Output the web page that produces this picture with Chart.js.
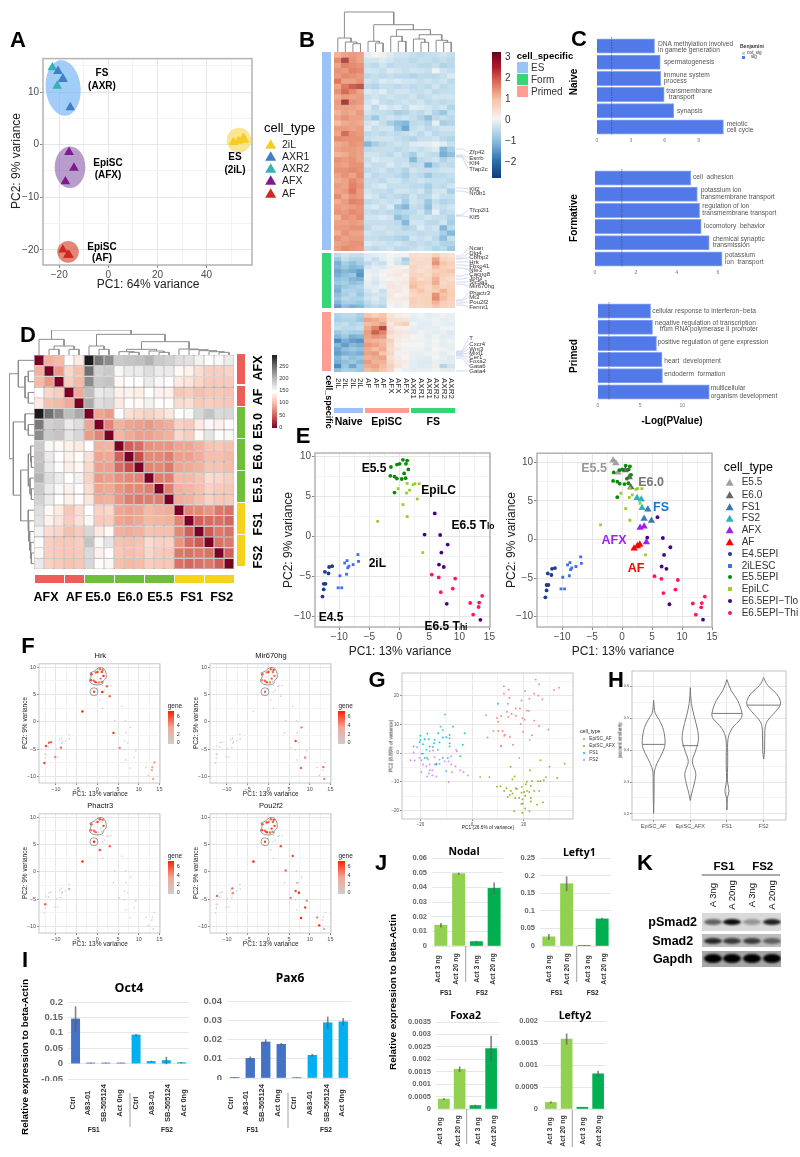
<!DOCTYPE html>
<html>
<head>
<meta charset="utf-8">
<script src="https://cdn.jsdelivr.net/npm/chart.js@4"></script>
<style>
html,body{margin:0;padding:0;background:#fff;}
#page{position:relative;width:800px;height:1157px;overflow:hidden;font-family:"Liberation Sans",Arial,sans-serif;filter:blur(0.3px);}
#page canvas{position:absolute;}
.tx{position:absolute;white-space:pre;line-height:1;}
.gl{position:absolute;}
svg{position:absolute;left:0;top:0;}
</style>
</head>
<body>
<div id="page"></div>
<script>
// ---------- data ----------
// panel A
const aIL = [[51,0.5],[53,0.7],[55,1.3],[55.5,0.9]];
const aAXR1 = [[-20.5,14],[-15.5,7.1],[-18.5,12.5]];
const aAXR2 = [[-22.8,14.7],[-20.8,11.2],[-18.5,12.6]];
const aAFX = [[-16,-1.4],[-14,-4.4],[-17.5,-7]];
const aAF = [[-18.5,-20],[-16,-21],[-16.5,-21]];
const aEllipses = [[-18.4,10.8,7.1,5.3,'rgba(126,186,245,.72)',-0.1],[-15.6,-4.3,6.25,3.96,'rgba(135,90,170,.6)',0],[-16.4,-20.4,4.4,2.08,'rgba(214,84,60,.7)',0],[53.2,0.85,5,2.36,'rgba(247,220,110,.75)',0]];

// panel B, values x10, columns 2iL x4, AF x3, AFX x3, AXR1 x3, AXR2 x3
const bCols = ['2iL','2iL','2iL','2iL','AF','AF','AF','AFX','AFX','AFX','AXR1','AXR1','AXR1','AXR2','AXR2','AXR2'];
const bES = [
[13,15,16,15,-2,0,1,-4,-5,-5,-6,-7,-6,-6,-5,-6],
[18,24,17,15,-5,-5,-4,-5,-6,-6,-7,-6,-6,-7,-6,-7],
[15,19,18,17,-6,-7,-5,-7,-6,-6,-6,-7,-7,-6,-8,-7],
[17,16,19,18,-5,-5,-6,-4,-5,-6,-5,-5,-6,-1,-5,-6],
[16,18,17,16,-7,-6,-7,-6,-7,-7,-8,-7,-7,-7,-6,-4],
[20,15,15,17,-5,-6,-4,-5,-4,-5,-5,-6,-5,-6,-5,-7],
[15,20,22,23,-7,-8,-6,-6,-7,-6,-7,-6,-7,-5,-7,-6],
[17,21,18,15,-4,-5,-3,-6,-5,-5,-6,-6,-5,-7,-6,-6],
[14,16,15,16,-6,-5,-6,-5,-6,-6,-5,-7,-6,-5,-5,-5],
[16,25,17,16,-5,-3,-6,-7,-6,-5,-6,-5,-7,-6,-7,-6],
[15,15,15,14,-4,-7,-3,-5,-4,-6,-3,-4,-5,-6,-5,-8],
[13,15,14,16,-5,-6,-6,-7,-9,-8,-6,-7,-5,-8,-10,-6],
[15,17,15,15,-7,-10,-6,-5,-6,-5,-6,-8,-11,-7,-6,-7],
[12,14,15,14,-5,-4,-6,-9,-11,-12,-7,-6,-8,-2,-9,-8],
[16,16,15,16,-4,-6,-5,-5,-10,-14,-6,-5,-7,-6,-5,-5],
[15,21,17,16,-7,-6,-7,-6,-7,-6,-5,-7,-5,-7,-6,-6],
[18,17,17,17,-6,-5,-5,-5,-6,-7,-8,-6,-6,-5,-7,-8],
[14,15,17,16,-12,-9,-7,-6,-5,-6,-4,-3,-3,-1,-3,-6],
[15,16,16,15,-7,-6,-6,-6,-7,-6,-5,-6,-5,-4,-12,-9],
[13,14,16,15,-5,-5,-6,-7,-5,-7,-9,-5,-6,-7,-13,-11],
[17,16,17,15,-6,-4,-5,-5,-6,-6,-12,-7,-6,-5,-8,-6],
[16,15,17,17,-5,-6,-6,-4,-6,-5,-7,-6,-13,-8,-6,-7],
[17,17,18,17,-7,-6,-5,-7,-6,-8,-5,-6,-6,-6,-5,-5],
[15,17,15,18,-5,-7,-6,-6,-7,-9,-6,-7,-10,-7,-7,-6],
[14,15,18,16,-6,-6,-7,-5,-5,-7,-6,-5,-6,-6,-6,-7],
[16,15,19,17,-6,-5,-4,-6,-6,-6,-7,-7,-9,-6,-7,-5],
[15,16,20,16,-5,-6,-6,-7,-5,-5,-6,-5,-8,-5,-5,-9],
[18,14,17,16,-4,-5,-7,-6,-7,-8,-5,-7,-7,-4,-6,-6],
[14,16,19,18,-7,-6,-5,-6,-5,-9,-5,-6,-10,-6,-8,-7],
[16,15,16,17,-5,-4,-6,-4,-10,-12,-6,-7,-11,-5,-6,-5],
[17,16,18,17,-6,-7,-6,-7,-8,-7,-7,-5,-9,-2,-7,-6],
[13,17,16,18,-5,-5,-4,-5,-11,-9,-6,-6,-5,-6,-6,-8],
[15,15,16,15,-6,-6,-6,-6,-7,-12,-5,-5,-7,-7,-5,-9],
[16,16,17,17,-7,-5,-5,-6,-6,-8,-7,-4,-6,-5,-12,-7],
[14,17,15,15,-5,-6,-6,-5,-6,-6,-6,-7,-6,-6,-9,-12],
[17,15,16,16,-6,-6,-7,-7,-8,-9,-5,-6,-5,-7,-11,-6],
[15,16,17,17,-4,-5,-5,-6,-5,-6,-7,-6,-7,-6,-8,-8],
[16,18,17,16,-6,-7,-6,-5,-7,-7,-6,-5,-6,-8,-7,-10]
];
const bForm = [
[-7,-5,-6,-6,-4,-3,-2,0,1,-1,6,5,5,9,6,5],
[-10,-6,-8,-8,-4,-6,-3,-1,-4,-9,7,6,7,15,8,7],
[-13,-9,-11,-9,-7,-5,-6,-1,-5,-7,6,7,6,17,11,9],
[-12,-10,-12,-11,-5,-3,-4,2,1,0,8,6,5,12,9,8],
[-14,-12,-13,-15,-2,-3,-1,1,2,3,7,5,7,9,10,11],
[-13,-11,-10,-16,-1,-2,0,2,3,1,8,8,6,11,9,8],
[-11,-10,-12,-13,-1,-4,-1,0,1,2,10,6,8,13,8,6],
[-10,-9,-11,-10,-3,-5,-2,3,2,3,11,10,9,14,7,8],
[-12,-10,-9,-8,-3,-3,-1,4,3,2,12,9,7,11,8,9],
[-13,-8,-8,-9,-5,-3,-6,2,3,1,9,11,8,10,13,9],
[-11,-9,-7,-10,-6,-5,-5,3,0,1,7,9,8,17,11,10],
[-10,-7,-8,-8,-5,-4,-6,2,2,3,9,8,9,18,12,9],
[-12,-9,-9,-10,-7,-5,-6,1,2,1,10,8,9,13,10,8],
[-15,-11,-13,-12,-8,-7,-8,0,-2,-1,8,7,8,11,9,8]
];
const bPrimed = [
[-8,-7,-7,-9,11,9,11,4,2,1,-2,-1,-3,-2,-1,-2],
[-9,-8,-8,-10,15,14,12,6,5,4,-3,-2,-2,-1,-3,-2],
[-7,-6,-8,-7,12,13,15,3,7,9,-1,-3,-3,-1,-2,-3],
[-6,-7,-7,-6,14,19,24,5,2,1,-2,-3,-2,-2,-1,-1],
[-10,-8,-9,-9,16,22,19,7,4,3,-3,-1,-2,-3,-2,-4],
[-12,-10,-13,-12,15,17,16,4,3,2,0,-1,-3,-1,-3,-3],
[-17,-13,-15,-16,14,13,12,9,2,1,-1,-1,-2,0,-2,-1],
[-12,-15,-12,-13,16,15,13,7,1,0,0,0,-2,-1,-3,-2],
[-14,-11,-10,-11,14,12,14,6,3,-1,-1,-1,-3,0,-1,-2],
[-15,-13,-12,-13,15,16,11,8,-1,1,-2,-2,-1,-1,-3,-1],
[-12,-9,-11,-10,13,14,15,5,2,0,-2,-3,-3,0,-2,-4],
[-13,-11,-10,-12,16,13,13,7,3,2,-3,-4,-4,-2,-3,-3],
[-17,-10,-14,-10,14,15,12,9,4,1,-3,-4,-3,2,-8,-5],
[-11,-9,-9,-10,12,13,11,8,0,-2,-3,-2,-2,-1,-2,-3]
];
const bTree = [[2.5,0,3.5,0,8.3],[1.5,0,3,8.3,10],[0.5,0,2.25,10,14],[5.5,0,6.5,0,9],[4.5,0,6,9,10.7],[8.5,0,9.5,0,10.7],[7.5,0,9,10.7,15.7],[11.5,0,12.5,0,9.7],[10.5,0,12,9.7,13],[14.5,0,15.5,0,9.7],[13.5,0,15,9.7,11.7],[11.25,13,14.25,11.7,17.3],[8.25,15.7,12.75,17.3,22.3],[5.25,10.7,10.5,22.3,27.3],[1.375,14,7.9,27.3,40]];
const bGenes = [['Zfp42',152,149],['Esrrb',157.7,155],['Klf4',163.3,156],['Tfap2c',169.3,157],['Klf2',188.7,188],['Nr0b1',192.7,191],['Tfcp2l1',209.7,215],['Klf5',216.7,216],['Ncan',248,256],['Dlg4',253,258],['Cbfbp2',257.3,259],['Hrk',261.7,262],['Fbxo41',266,265],['Nfe3',269.7,268],['Cacng8',273.7,276],['Jph3',277.7,279],['Slc5a1',281.7,282],['Mir670hg',286.3,284],['Phactr3',293,300],['Mt3',297.3,301],['Pou2f2',301.7,303],['Fermt1',306.7,305],['T',338.3,351],['Cxcr4',344.3,352],['Wnt3',349,353],['Mixl1',353,354],['Cer1',357.3,355],['Foxa2',361.3,356],['Gata6',365.7,358],['Gata4',371,371]];

// panel C
const cNaiveTerms = ['DNA methylation','spermatogenesis','immune system process','transmembrane transport','synapsis','meiotic cell cycle'];
const cNaiveVals = [5.1,5.6,5.65,5.95,6.8,11.2];
const cFormTerms = ['cell adhesion','potassium ion tm transport','regulation of ion tm transport','locomotory behavior','chemical synaptic transmission','potassium ion transport'];
const cFormVals = [4.68,5.0,5.11,5.19,5.58,6.21];
const cPrimTerms = ['response to interferon-beta','negative regulation','positive regulation','heart development','endoderm formation','multicellular organism development'];
const cPrimVals = [6.24,6.47,6.94,7.6,7.65,13.2];

// panel D, upper triangle of the distance matrix
const dUpper = [
[0,95,100,152,135,285,235,225,190,195,198,205,190,185,175,172,160,152,155,165],
[0,80,120,105,240,185,190,155,165,165,175,165,165,145,140,125,115,115,118],
[0,115,100,225,190,195,145,150,148,165,155,150,135,130,120,112,112,112],
[0,90,200,165,170,140,140,138,150,140,140,110,115,105,110,110,108],
[0,210,175,180,135,148,145,160,148,148,125,128,112,115,112,110],
[0,88,82,150,128,122,118,125,132,150,155,180,195,178,180],
[0,70,95,88,85,80,88,92,118,112,135,155,140,148],
[0,98,90,85,85,90,95,122,115,145,170,152,155],
[0,55,60,75,78,78,88,88,95,108,110,105],
[0,45,72,72,68,85,85,92,105,105,100],
[0,70,72,65,88,90,95,108,108,102],
[0,68,68,100,100,108,125,120,115],
[0,68,95,98,105,118,112,110],
[0,92,95,105,118,110,110],
[0,70,72,78,65,62],
[0,55,60,62,58],
[0,52,65,62],
[0,62,65],
[0,55],
[0]
];
const dTree = [[1.5,0,2.5,0,17],[3.5,0,4.5,0,17],[2,17,4,17,27],[0.5,0,3,27,47],[6.5,0,7.5,0,17],[5.5,0,7,17,27],[9.5,0,10.5,0,8],[8.5,0,10,8,10],[12.5,0,13.5,0,8],[11.5,0,13,8,12],[9.25,10,12.25,12,17],[18.5,0,19.5,0,8],[17.5,0,19,8,10],[16.5,0,18.25,10,13],[15.5,0,17.4,13,16],[14.5,0,16.45,16,18],[10.75,17,15.5,18,40],[6.25,27,13.1,40,62],[1.75,47,9.7,62,75]];

// panel E, F: shared samples
const e45 = [[-12.8,-7.5],[-12.6,-6.6],[-12.6,-5.9],[-12.3,-5.9],[-12.4,-4.4],[-11.8,-4.6],[-11.7,-3.8],[-11.2,-3.7]];
const eIL = [[-10.2,-6.4],[-9.6,-6.4],[-9.9,-4.9],[-8.8,-4.7],[-8.6,-3.9],[-8.4,-3.7],[-9.1,-3.3],[-8.7,-3],[-7.7,-3.5],[-6.8,-3.1],[-6.9,-2.25]];
const e55 = [[-1.4,8.7],[-0.4,9],[0.05,9.1],[0.6,9.6],[1.3,9.5],[1.1,9.1],[1.5,8.4],[0.8,7.9],[-1.5,7.6],[-0.8,7.5],[-0.4,7.25],[0.4,7.2],[1.05,7.3],[-0.8,5.5]];
const eLC = [[-3.6,1.9],[1.3,6.65],[2.3,6.5],[2.6,6.6],[3.3,6.6],[1.7,5.8],[1.2,5.45],[-0.2,6],[3,4.7],[0.6,4],[1.3,2.5],[3.9,-2]];
const eTlo = [[5.9,2.9],[4.2,0.25],[6.8,0.2],[8.05,-1],[7,-2],[6.6,-3.5],[7.4,-3.8],[7.9,-8.4],[13.5,-10.4]];
const eThi = [[5.4,-4.75],[6.55,-5.1],[9.3,-5.25],[8.9,-6.5],[6.9,-6.95],[11.8,-8.3],[13.3,-8.25],[13.8,-7.4],[13.2,-8.8],[12.3,-9.75]];
const tE55 = [[-1.5,10.25],[-1.05,9.9],[-0.67,8.7]];
const tE60 = [[0.55,9],[1.2,8.1],[1.45,6.8]];
const tFS1 = [[4.3,3.9],[3.67,2.7],[4.9,2.45]];
const tFS2 = [[2.5,5.4],[3.2,5.2],[3.33,4.1]];
const tAFX = [[3,1.55],[3.67,1.7],[4.05,-0.35]];
const tAF = [[2,-1.15],[2.55,-0.85],[2.95,-0.65]];
const fHull = [[-1.8,8.9],[-0.7,9.3],[0.15,9.8],[1.05,9.9],[1.7,9.6],[2.1,8.9],[2.1,8],[1.45,7.5],[1.3,7],[0.1,6.75],[-1.1,6.9],[-1.9,7.5],[-1.5,8.25],[-1.8,8.9]];
const exprHrk = [6,0,0,0,6,0,5,5, 4,0,0,5,0,0,0,0,0,0,0, 6,5,6,5,5,6,7,4,6,5,6,4,5,6, 7,0,5,0,0,0,7,0,5,0,0,7, 0,0,0,0,0,0,0,0,3, 4,0,0,0,0,0,3,3,3,0];
const exprMir = [0,0,0,0,0,0,0,0, 0,0,0,0,0,0,0,0,0,0,0, 5,4,6,5,6,5,5,5,4,5,6,4,0,5, 0,0,0,0,0,0,0,0,0,0,0,0, 0,0,0,4,0,6,0,5,4, 0,0,0,4,0,0,5,0,0,0];
const exprPha = [0,0,5,0,0,0,0,0, 0,0,0,0,0,0,0,0,0,3,0, 5,0,6,6,5,0,6,0,5,5,5,0,0,7, 7,0,0,0,0,0,0,0,5,6,0,0, 0,0,0,0,0,0,0,0,0, 0,0,0,0,0,0,0,0,0,0];
const exprPou = [0,0,0,0,5,0,0,0, 0,0,0,0,4,0,0,5,0,0,0, 5,6,5,5,6,5,6,6,6,5,7,5,4,6, 7,0,0,0,0,0,0,0,6,0,0,0, 6,5,0,0,3,6,7,7,3, 4,0,4,6,0,4,0,0,0,7];

// panel G
const gAF = [[24.6,25.6],[25.9,24],[12.3,23.3],[33.6,22.8],[31.7,22],[14.2,22.1],[12.3,20.7],[20.5,21.6],[24,20.7],[25.6,20],[27.2,18.7],[14.4,19.2],[19.1,18.3],[22.1,18.9],[13.8,17.2],[16.9,15.5],[18.5,15.5],[21.2,14.8],[21.9,14.7],[13.5,14.4],[15.3,13.6],[5.4,13.2],[11.2,12.9],[16.9,13],[14,12.6],[9.6,12.2],[19.5,12.1],[20.3,11.6],[24,11.3],[10.1,10.9],[18.8,10.1],[25.9,9.4],[29.5,8.2],[8.2,7.7],[10.1,7.7],[11.8,7.7],[19.7,7.4],[12.8,6.4],[12.4,6],[14.6,5.6],[23.1,6.2],[22.3,4.6],[15.8,2.9],[11.2,2.5],[18.2,-1.7]];
const gAFX = [[26.4,-2.5],[35.8,-3.7],[29.9,-4.8],[14.9,-4.8],[22.4,-6],[3.1,-8.4],[6.7,-8.4],[16.4,-8.2],[15.6,-9.2],[28.5,-8.4],[32.9,-8.7],[27.7,-9.5],[26.4,-9.8],[25.5,-9.8],[23.1,-9.8],[21.2,-10],[20.8,-10.9],[22.7,-11.5],[19.2,-11.8],[16.9,-12.3],[9.6,-11.7],[11,-11.6],[13.3,-12.3],[12.4,-13.2],[15,-13.2],[17.3,-12.6],[21.2,-13.2],[22.1,-13.6],[24,-13.2],[25.9,-13.2],[20.1,-13.6],[19.1,-13.8],[15.6,-14.1],[14.6,-14.6],[13.8,-15.3],[16.7,-15.7],[18.2,-15.7],[19.5,-16.1],[20.5,-14.9],[22.7,-15.7],[19.5,-17.6],[19.1,-17.8],[27.4,-17.2],[25.1,-18],[22.7,-16.9],[20.5,-19.3],[16.3,-20.3],[19.4,-20.8],[22.2,-20.3]];
const gFS1 = [[10,17.2],[-10.5,13.4],[-12.2,9.2],[-11.3,8],[-7.4,9.2],[-2.9,6.9],[-13.1,6.9],[-20,6],[-17.3,6.7],[-20,4.6],[-18.3,4.8],[-16.7,4.8],[-14.5,4.6],[-11.3,5.4],[-10,5.5],[-8.7,6.3],[-8.7,5.2],[-20.3,3.8],[-22.6,2.3],[-19,3.1],[-16.4,2.3],[-14.7,3.4],[-12.6,3.7],[-8.7,3.4],[-8.7,2.3],[-3.6,2.9],[-17.7,1.1],[-15.1,2.1],[-13.2,1.1],[-4.6,-1.1],[-19,-0.2],[-17.4,-1.7],[-11.3,-1.7],[-9.4,-1.7],[-13.8,-3.7],[-10,-6.3],[-13.8,-4],[-18.3,-1.7]];
const gFS2 = [[6,5.4],[11.2,2.3],[-21.3,2],[-6.2,1.1],[-5.9,0.6],[-22.6,0.2],[-19.6,-0.2],[-16.4,0.6],[-15.1,0.9],[-8.1,-1.1],[-20.3,-1.7],[-23.8,-2.5],[-22.2,-2.6],[-19.6,-2.5],[-17,-2.3],[-14.5,-1.4],[-12.6,-2.3],[-10.6,-2.9],[-9.1,-2.9],[-16.4,-4],[-14.5,-4],[-12.6,-3.8],[-6.4,-4.6],[-8.1,-4],[-16.4,-6],[-15.4,-6],[-19.6,-6.7],[-16.7,-7.1],[-7.7,-6.7],[-4.6,-6],[-3.3,-6.6],[-1.7,-7.8],[-17.4,-8.2],[-13.8,-8.2],[-15.4,-7.8],[-9.1,-10.2],[-17.7,-4.6],[-19,-4]];

// panel H: [similarity, half width]
const violinNames = ['EpiSC_AF','EpiSC_AFX','FS1','FS2'];
const violinAF = [[0.556,0],[0.535,0.014],[0.515,0.045],[0.494,0.155],[0.4625,0.27],[0.418,0.31],[0.39,0.23],[0.358,0.09],[0.332,0.02],[0.296,0.014],[0.254,0.01],[0.202,0]];
const violinAFX = [[0.596,0],[0.546,0.03],[0.504,0.11],[0.4625,0.2],[0.431,0.22],[0.4,0.15],[0.364,0.055],[0.327,0.15],[0.296,0.11],[0.265,0.04],[0.242,0]];
const violinFS1 = [[0.621,0],[0.5875,0.11],[0.556,0.29],[0.515,0.41],[0.499,0.38],[0.468,0.14],[0.436,0.03],[0.379,0.02],[0.353,0.02],[0.306,0.01],[0.291,0.03],[0.27,0.055],[0.249,0.01],[0.2125,0]];
const violinFS2 = [[0.627,0],[0.603,0.11],[0.577,0.35],[0.556,0.45],[0.541,0.45],[0.52,0.32],[0.489,0.09],[0.4625,0.035],[0.4,0.027],[0.372,0]];
const violinMedian = [[0.418,0.3],[0.414,0.22],[0.515,0.41],[0.541,0.45]];

// panels I, J
const iLabels = ['Ctrl','A83-01','SB-505124','Act 0ng','Ctrl','A83-01','SB-505124','Act 0ng'];
const oct4Vals = [0.145,0.002,0.002,0.002,0.093,0.007,0.01,0.003];
const oct4Errs = [0.04,0,0,0,0.002,0.001,0.011,0.001];
const pax6Vals = [0.0002,0.0102,0.0187,0.0175,0.0002,0.0118,0.0287,0.0292];
const pax6Errs = [0,0.0008,0.0012,0.0005,0,0.0006,0.003,0.0018];
const jLabels = ['Act 3 ng','Act 20 ng','Act 3 ng','Act 20 ng'];
const nodalVals = [0.0142,0.0493,0.003,0.0393];
const nodalErrs = [0.0013,0.0005,0.0003,0.0037];
const lefty1Vals = [0.026,0.177,0.001,0.077];
const lefty1Errs = [0.007,0.02,0,0.002];
const foxa2Vals = [0.0004,0.0016,0.00014,0.00243];
const foxa2Errs = [0.00002,0.0001,0.00002,0.0005];
const lefty2Vals = [0.00015,0.00159,0.00004,0.0008];
const lefty2Errs = [0.00002,0.00012,0,0.00006];

// ---------- helpers ----------
const page = document.getElementById('page');
Chart.defaults.animation = false;
Chart.defaults.responsive = false;
Chart.defaults.devicePixelRatio = 1;
Chart.defaults.font.family = '"Liberation Sans"';
Chart.defaults.plugins.legend.display = false;
Chart.defaults.plugins.tooltip.enabled = false;

// frame, reference line and ellipses
Chart.register({
    id: 'deco',
    beforeDatasetsDraw(chart, args, o) {
        (o.ellipses || []).forEach(e => {
            const sx = chart.scales.x, sy = chart.scales.y;
            const cx = sx.getPixelForValue(e[0]), cy = sy.getPixelForValue(e[1]);
            const rx = Math.abs(sx.getPixelForValue(e[0] + e[2]) - cx), ry = Math.abs(sy.getPixelForValue(e[1] + e[3]) - cy);
            chart.ctx.beginPath();
            chart.ctx.ellipse(cx, cy, rx, ry, e[5], 0, Math.PI * 2);
            chart.ctx.fillStyle = e[4];
            chart.ctx.fill();
        });
    },
    afterDraw(chart, args, o) {
        const a = chart.chartArea, c = chart.ctx;
        if (o.refLine != null) {
            const x = chart.scales.x.getPixelForValue(o.refLine);
            c.save();
            c.strokeStyle = '#444';
            c.lineWidth = 0.6;
            c.setLineDash([1.5, 1]);
            c.beginPath();
            c.moveTo(x, a.top - 1);
            c.lineTo(x, a.bottom);
            c.stroke();
            c.restore();
        }
        if (o.frame) {
            c.save();
            c.strokeStyle = o.frame;
            c.lineWidth = o.frameWidth || 1;
            c.strokeRect(a.left, a.top, a.right - a.left, a.bottom - a.top);
            c.restore();
        }
    }
});

function plot(box, type, datasets, scales, extra) {
    const { x, y, w, h, l = 30, b = 20, t = 4, r = 12 } = box;
    const cv = document.createElement('canvas');
    cv.width = w + l + r;
    cv.height = h + t + b;
    cv.style.left = (x - l) + 'px';
    cv.style.top = (y - t) + 'px';
    cv.style.width = cv.width + 'px';
    cv.style.height = cv.height + 'px';
    page.appendChild(cv);
    const clear = s => { s.paddingLeft = s.paddingRight = s.paddingTop = s.paddingBottom = 0; };
    scales.x.afterFit = s => { s.height = b; clear(s); };
    scales.y.afterFit = s => { s.width = l; clear(s); };
    const labels = extra && extra.labels;
    return new Chart(cv, {
        type,
        data: labels ? { labels, datasets } : { datasets },
        options: {
            indexAxis: (extra && extra.indexAxis) || 'x',
            layout: { padding: { top: t, right: r, left: 0, bottom: 0 } },
            scales,
            plugins: { deco: (extra && extra.deco) || {} }
        }
    });
}

const hidden = o => Object.assign({ ticks: { display: false }, grid: { display: false }, border: { display: false } }, o);

function gg(min, max, step, labelStep, size, fmt) {
    const major = v => Math.abs(v / labelStep - Math.round(v / labelStep)) < 1e-6;
    return {
        type: 'linear', min, max,
        ticks: {
            stepSize: step, includeBounds: false, autoSkip: false, maxRotation: 0,
            font: { size }, color: '#4d4d4d', padding: 1,
            callback: v => major(v) ? (fmt ? fmt(v) : String(v).replace('-', '\u2212')) : ''
        },
        grid: {
            color: c => major(c.tick.value) ? '#e6e6e6' : '#f3f3f3',
            tickColor: c => major(c.tick.value) ? '#8a8a8a' : 'transparent',
            tickLength: size > 7 ? 3 : 2
        },
        border: { display: false }
    };
}

function T(s, x, y, o = {}) {
    const d = document.createElement('div');
    d.className = 'tx';
    d.innerHTML = s;
    d.style.left = x + 'px';
    d.style.top = y + 'px';
    d.style.fontSize = (o.size || 10) + 'px';
    d.style.color = o.color || '#000';
    if (o.bold) d.style.fontWeight = 'bold';
    if (o.family) d.style.fontFamily = o.family;
    let tr = o.align === 'l' ? 'translate(0,-50%)' : o.align === 'r' ? 'translate(-100%,-50%)' : 'translate(-50%,-50%)';
    if (o.rot) tr = 'translate(-50%,-50%) rotate(' + o.rot + 'deg)';
    if (o.vert) { d.style.writingMode = 'vertical-rl'; tr = 'translate(-50%,0)'; }
    d.style.transform = tr;
    page.appendChild(d);
}

function glyph(shape, color, x, y, size) {
    const d = document.createElement('div');
    d.className = 'gl';
    d.style.cssText += `left:${x - size / 2}px;top:${y - size / 2}px;width:${size}px;height:${size}px;background:${color};`;
    if (shape === 'tri') d.style.clipPath = 'polygon(50% 6%,100% 94%,0 94%)';
    if (shape === 'dot') d.style.borderRadius = '50%';
    page.appendChild(d);
}

function box(x, y, w, h, bg) {
    const d = document.createElement('div');
    d.className = 'gl';
    d.style.cssText += `left:${x}px;top:${y}px;width:${w}px;height:${h}px;background:${bg};`;
    page.appendChild(d);
    return d;
}

function ramp(stops, v) {
    if (v <= stops[0][0]) return stops[0][1];
    for (let i = 1; i < stops.length; i++) {
        if (v <= stops[i][0]) {
            const f = (v - stops[i - 1][0]) / (stops[i][0] - stops[i - 1][0]);
            const p = stops[i - 1][1], q = stops[i][1];
            const m = k => Math.round(parseInt(p.substr(k, 2), 16) * (1 - f) + parseInt(q.substr(k, 2), 16) * f);
            return `rgb(${m(1)},${m(3)},${m(5)})`;
        }
    }
    return stops[stops.length - 1][1];
}

const rdbu = [[-28, '#0b3c78'], [-20, '#2d72b2'], [-10, '#9cc9e2'], [-4, '#dbeaf3'], [0, '#f5f4f3'], [10, '#f8cdb4'], [20, '#e07a5e'], [30, '#67001f']];
const distRamp = [[0, '#7a0025'], [45, '#c8504a'], [55, '#d2605a'], [75, '#e8907c'], [100, '#f6b9a4'], [130, '#fde3d8'], [150, '#ffffff'], [200, '#bdbdbd'], [285, '#1a1a1a']];
const geneRamp = [[0, '#cdcdcd'], [3, '#f0a898'], [7, '#ff2000']];

const pts = a => a.map(p => ({ x: p[0], y: p[1] }));
const scat = (a, color, style, radius) => ({ data: pts(a), backgroundColor: color, borderColor: color, pointStyle: style, pointRadius: radius, pointBorderWidth: 0 });

// heat map out of floating bars, one dataset per row
function heat(b, rows, colLabels, colorFor, border) {
    const sets = rows.map((row, r) => ({
        data: row.map(() => [r, r + 1]),
        backgroundColor: row.map(colorFor),
        borderColor: border || 'transparent',
        borderWidth: border ? 0.6 : 0,
        borderSkipped: false,
        inflateAmount: border ? 0 : 0.4,
        grouped: false,
        barPercentage: 1,
        categoryPercentage: 1
    }));
    plot(Object.assign({ l: 0, b: 0, t: 0, r: 0 }, b), 'bar', sets,
        { x: hidden({ type: 'category' }), y: hidden({ type: 'linear', min: 0, max: rows.length, reverse: true }) },
        { labels: colLabels });
}

function tree(b, merges, maxX, maxH, swap) {
    const sets = merges.map(m => {
        const p = [[m[0], m[1]], [m[0], m[4]], [m[2], m[4]], [m[2], m[3]]];
        return {
            data: p.map(q => swap ? { x: q[1], y: q[0] } : { x: q[0], y: q[1] }),
            showLine: true, pointRadius: 0, borderColor: '#8c8c8c', borderWidth: 1
        };
    });
    const leaf = { type: 'linear', min: 0, max: maxX };
    const hgt = { type: 'linear', min: 0, max: maxH };
    const scales = swap ? { x: hidden(Object.assign(hgt, { reverse: true })), y: hidden(Object.assign(leaf, { reverse: true })) } : { x: hidden(leaf), y: hidden(hgt) };
    plot(Object.assign({ l: 0, b: 0, t: 1, r: 1 }, b), 'scatter', sets, scales);
}

function letters() {
    [['A', 18, 40], ['B', 307, 40], ['C', 579, 39], ['D', 28, 335], ['E', 303, 436], ['F', 28, 646], ['G', 377, 680], ['H', 616, 680], ['I', 25, 960], ['J', 381, 863], ['K', 645, 863]]
        .forEach(p => T(p[0], p[1], p[2], { size: 22, bold: true }));
}

// ---------- panel A ----------
plot({ x: 43.3, y: 56.7, w: 209, h: 208.3, l: 26, b: 16 }, 'scatter', [
    scat(aAF, '#cf2a22', 'triangle', 5.6),
    scat(aAFX, '#7e1a8c', 'triangle', 5.6),
    scat(aAXR1, '#3f7fc4', 'triangle', 5.6),
    scat(aAXR2, '#38b0b8', 'triangle', 5.6),
    scat(aIL, '#f7cc22', 'triangle', 5.6)
], { x: gg(-26.6, 58.5, 10, 20, 10), y: gg(-22.9, 16.4, 5, 10, 10) },
    { deco: { ellipses: aEllipses, frame: '#b3b3b3', frameWidth: 1.5 } });
T('PC1: 64% variance', 148, 284, { size: 12, color: '#222' });
T('PC2: 9% variance', 16, 161, { size: 12, rot: -90, color: '#222' });
[['FS', 102, 73], ['(AXR)', 102, 86], ['EpiSC', 108, 163], ['(AFX)', 108, 175], ['EpiSC', 102, 247], ['(AF)', 102, 258], ['ES', 235, 157], ['(2iL)', 235, 170]]
    .forEach(p => T(p[0], p[1], p[2], { size: 10, bold: true }));
T('cell_type', 264, 127, { size: 13, align: 'l' });
[['2iL', '#f7cc22', 144], ['AXR1', '#3f7fc4', 156], ['AXR2', '#38b0b8', 168], ['AFX', '#7e1a8c', 180], ['AF', '#cf2a22', 193]].forEach(p => {
    glyph('tri', p[1], 270.7, p[2], 11);
    T(p[0], 282, p[2], { size: 10.5, align: 'l', color: '#222' });
});

// ---------- panel B ----------
const bColor = v => ramp(rdbu, v);
tree({ x: 334, y: 8, w: 121, h: 44 }, bTree, 16, 44, false);
heat({ x: 334, y: 52, w: 121, h: 199 }, bES, bCols, bColor);
heat({ x: 334, y: 253, w: 121, h: 55 }, bForm, bCols, bColor);
heat({ x: 334, y: 313, w: 121, h: 59 }, bPrimed, bCols, bColor);
box(322.3, 51.7, 8.7, 198.3, '#9cc3f9');
box(322.3, 252.7, 8.7, 55.3, '#35d676');
box(322.3, 312.3, 8.7, 58.7, '#ff9d92');
bCols.forEach((c, i) => T(c, 334 + (i + 0.5) * 7.56, 378, { size: 8, vert: true, color: '#222' }));
T('cell_specific', 327.7, 402, { size: 9, bold: true, rot: 90 });
box(334, 408, 29, 5, '#9cc3f9');
box(364.7, 408, 44.3, 5, '#ff9d92');
box(410.7, 408, 44.3, 5, '#35d676');
T('Naive', 348.7, 421, { size: 10.5, bold: true });
T('EpiSC', 386.7, 421, { size: 10.5, bold: true });
T('FS', 433.3, 421, { size: 10.5, bold: true });
box(492.3, 52.3, 8.4, 126, 'linear-gradient(to bottom,#67001f 0%,#b2182b 12%,#d6604d 22%,#f7c4a8 38%,#f5f4f3 53%,#8fc1de 70%,#2d72b2 86%,#0b3c78 100%)');
[['3', 56.7], ['2', 77.7], ['1', 99], ['0', 119.7], ['\u22121', 141], ['\u22122', 162.3]].forEach(p => T(p[0], 505, p[1], { size: 10, align: 'l', color: '#333' }));
T('cell_specific', 516.7, 56, { size: 9.5, bold: true, align: 'l' });
[['ES', '#9cc3f9', 61.7], ['Form', '#35d676', 73.7], ['Primed', '#ff9d92', 85.7]].forEach(p => {
    box(516.7, p[2], 11.6, 11.6, p[1]);
    T(p[0], 531, p[2] + 6, { size: 10, align: 'l', color: '#333' });
});
bGenes.forEach(g => T(g[0], 469.3, g[1], { size: 6, align: 'l', color: '#333' }));

// ---------- panel C ----------
function termBars(b, terms, vals, xMax, step, lineAt) {
    plot(Object.assign({ l: 10, b: 12, t: 3, r: 4 }, b), 'bar', [{
        data: vals, backgroundColor: '#5179e8', borderColor: '#8ea6f0', borderWidth: 1, barThickness: 14.4
    }], {
        x: { type: 'linear', min: 0, max: xMax, grid: { display: false, drawTicks: true, tickLength: 2, tickColor: '#999' }, border: { display: false }, ticks: { stepSize: step, includeBounds: false, font: { size: 5 }, color: '#777', padding: 1 } },
        y: { type: 'category', grid: { display: false }, border: { display: false }, ticks: { font: { size: 5 }, color: '#555', padding: 5, callback: () => '-' } }
    }, { labels: terms, indexAxis: 'y', deco: { refLine: lineAt } });
}
termBars({ x: 596.7, y: 37.9, w: 131.7, h: 97.6 }, cNaiveTerms, cNaiveVals, 11.6, 3, 1.3);
termBars({ x: 595.3, y: 169.5, w: 131.8, h: 97.6 }, cFormTerms, cFormVals, 6.4, 2, 1.31);
termBars({ x: 597.7, y: 303.2, w: 113.9, h: 97.3 }, cPrimTerms, cPrimVals, 13.4, 5, 1.3);
[['DNA methylation involved', 294, 71], ['in gamete generation', 294, 89], ['spermatogenesis', 312, 127], ['immune system', 311, 164], ['process', 311, 183], ['transmembrane', 319, 212], ['transport', 326, 232], ['synapsis', 351, 272], ['meiotic', 500, 311], ['cell cycle', 500, 331],
['cell  adhesion', 399, 471], ['potassium ion', 422, 509], ['transmembrane transport', 422, 530], ['regulation of ion', 427, 558], ['transmembrane transport', 427, 580], ['locomotory  behavior', 432, 619], ['chemical synaptic', 458, 656], ['transmission', 458, 676], ['potassium', 495, 704], ['ion  transport', 495, 727],
['cellular response to interferon\u2212beta', 277, 873], ['negative regulation of transcription', 285, 908], ['from RNA polymerase II promoter', 299, 928], ['positive regulation of gene expression', 293, 965], ['heart  development', 313, 1022], ['endoderm  formation', 313, 1062], ['multicellular', 452, 1105], ['organism development', 452, 1127]]
    .forEach(p => T(p[0], 560 + p[1] / 3, 20 + p[2] / 3, { size: 6.6, align: 'l', color: '#555' }));
T('Naive', 574, 82.3, { size: 10, bold: true, rot: -90 });
T('Formative', 574, 218, { size: 10, bold: true, rot: -90 });
T('Primed', 574, 356, { size: 10, bold: true, rot: -90 });
T('-Log(PValue)', 672, 421, { size: 10, bold: true });
T('Benjamini', 740, 45.7, { size: 5, bold: true, color: '#333', align: 'l' });
T('not_sig', 747, 53.3, { size: 4.5, color: '#333', align: 'l' });
T('sig', 751, 57.3, { size: 4.5, color: '#333', align: 'l' });
box(741.5, 51.5, 3, 3.5, '#ccc');
box(741.5, 55.5, 3, 3.5, '#5179e8');

// ---------- panel D ----------
const dMatrix = dUpper.map(() => new Array(20).fill(0));
dUpper.forEach((row, i) => row.forEach((v, k) => { dMatrix[i][i + k] = v; dMatrix[i + k][i] = v; }));
const dLabels = dMatrix.map((_, i) => 'S' + (i + 1));
heat({ x: 34.3, y: 355, w: 200, h: 214.3 }, dMatrix, dLabels, v => ramp(distRamp, v), '#a89f9f');
tree({ x: 34.3, y: 330, w: 200, h: 25 }, dTree, 20, 75, false);
tree({ x: 9, y: 355, w: 25.3, h: 214.3 }, dTree, 20, 75, true);
const dGroups = [['AFX', '#ef5d58', 0, 3, 368.3], ['AF', '#ef5d58', 3, 2, 397.3], ['E5.0', '#6fbf3a', 5, 3, 426], ['E6.0', '#6fbf3a', 8, 3, 457.3], ['E5.5', '#6fbf3a', 11, 3, 490], ['FS1', '#f5d31d', 14, 3, 524], ['FS2', '#f5d31d', 17, 3, 556.7]];
const dBottomX = [46, 74, 98, 130, 160, 191.7, 221.7];
dGroups.forEach((g, i) => {
    box(34.3 + g[2] * 10 + 0.5, 575, g[3] * 10 - 1, 8, g[1]);
    box(237, 355 + g[2] * 10.7 - 1.5, 8, g[3] * 10.7 - 1.2, g[1]);
    T(g[0], dBottomX[i], 597, { size: 12.5, bold: true });
    T(g[0], 258, g[4], { size: 12.5, bold: true, rot: -90 });
});
box(271.7, 355, 5, 73.3, 'linear-gradient(to bottom,#1a1a1a 0%,#6a6a6a 15%,#bdbdbd 33%,#ffffff 50%,#fde3d8 57%,#f6b9a4 67%,#d2605a 83%,#7a0025 100%)');
[['250', 366.7], ['200', 379], ['150', 391], ['100', 403.3], ['50', 416], ['0', 428.3]].forEach(p => T(p[0], 279.3, p[1], { size: 5.5, align: 'l', color: '#333' }));

// ---------- panel E ----------
const eSets = () => [
    scat(e55, '#0a8a0a', 'circle', 1.9),
    scat(eLC, '#9acd32', 'rect', 2),
    scat(e45, '#1f3a93', 'circle', 1.9),
    scat(eIL, '#3f6ff0', 'rect', 2),
    scat(eTlo, '#4b0082', 'circle', 1.9),
    scat(eThi, '#ff1464', 'circle', 1.9)
];
plot({ x: 315, y: 452.7, w: 175, h: 174.3, l: 26, b: 16 }, 'scatter', eSets(),
    { x: gg(-14.05, 15.1, 2.5, 5, 10), y: gg(-11.3, 10.45, 2.5, 5, 10) }, { deco: { frame: '#b3b3b3', frameWidth: 1.5 } });
plot({ x: 536.7, y: 452.7, w: 175, h: 174.3, l: 26, b: 16 }, 'scatter', eSets().concat([
    scat(tE55, '#a0a0a0', 'triangle', 4.2),
    scat(tE60, '#666666', 'triangle', 4.2),
    scat(tFS1, '#3a78b5', 'triangle', 4.2),
    scat(tFS2, '#2fb3b8', 'triangle', 4.2),
    scat(tAFX, '#a020f0', 'triangle', 4.2),
    scat(tAF, '#ff0000', 'triangle', 4.2)
]), { x: gg(-14.2, 15, 2.5, 5, 10), y: gg(-11.35, 11.2, 2.5, 5, 10) }, { deco: { frame: '#b3b3b3', frameWidth: 1.5 } });
T('PC2: 9% variance', 288, 540, { size: 12, rot: -90, color: '#222' });
T('PC1: 13% variance', 400, 651, { size: 12, color: '#222' });
T('PC2: 9% variance', 510.7, 540, { size: 12, rot: -90, color: '#222' });
T('PC1: 13% variance', 623, 651, { size: 12, color: '#222' });
const sub = s => '<span style="font-size:8.5px">' + s + '</span>';
[['E5.5', 374, 468.3], ['EpiLC', 438.7, 490], ['E6.5 T' + sub('lo'), 473, 525], ['2iL', 377.3, 562.7], ['E4.5', 331, 616.7], ['E6.5 T' + sub('hi'), 446, 626]]
    .forEach(p => T(p[0], p[1], p[2], { size: 12, bold: true }));
[['E5.5', 594, 468, '#999999'], ['E6.0', 651, 482.3, '#777777'], ['FS', 661, 507.3, '#1874cd'], ['AFX', 614, 540, '#a020f0'], ['AF', 636, 568, '#ff0000']]
    .forEach(p => T(p[0], p[1], p[2], { size: 12.5, bold: true, color: p[3] }));
T('cell_type', 723.7, 466.7, { size: 12.5, align: 'l' });
[['E5.5', 'tri', '#a0a0a0', 482.3], ['E6.0', 'tri', '#666666', 494.7], ['FS1', 'tri', '#3a78b5', 506.7], ['FS2', 'tri', '#2fb3b8', 518.3], ['AFX', 'tri', '#a020f0', 529.7], ['AF', 'tri', '#ff0000', 541.7], ['E4.5EPI', 'dot', '#1f3a93', 554], ['2iLESC', 'sq', '#3f6ff0', 565.7], ['E5.5EPI', 'dot', '#0a8a0a', 577.3], ['EpiLC', 'sq', '#9acd32', 589], ['E6.5EPI\u2212Tlo', 'dot', '#4b0082', 601], ['E6.5EPI\u2212Thi', 'dot', '#ff1464', 612.7]].forEach(p => {
    glyph(p[1], p[2], 729.7, p[3], p[1] === 'tri' ? 8 : 4);
    T(p[0], 741.7, p[3], { size: 10, align: 'l', color: '#333' });
});

// ---------- panel F ----------
const allSamples = e45.concat(eIL, e55, eLC, eTlo, eThi);
function genePlot(name, expr, x, y) {
    const xMin = -14.1, xMax = 15.15;
    const order = allSamples.map((p, i) => i).sort((a, b) => expr[a] - expr[b]);
    plot({ x, y, w: 121.7, h: 121.7, l: 16, b: 10, t: 3, r: 6 }, 'scatter', [
        { data: pts(fHull), showLine: true, tension: 0.4, pointRadius: 0, borderColor: '#777', borderWidth: 0.8 },
        { data: pts([e55[13]]), pointRadius: 4, backgroundColor: 'rgba(0,0,0,0)', borderColor: '#888', pointBorderWidth: 0.8 },
        {
            data: order.map(i => ({ x: allSamples[i][0], y: allSamples[i][1] })),
            pointRadius: order.map(i => expr[i] > 0 ? 1.2 : 0.8),
            pointBorderWidth: 0,
            backgroundColor: order.map(i => ramp(geneRamp, expr[i]))
        }
    ], { x: gg(xMin, xMax, 2.5, 5, 5.5), y: gg(-11.15, 10.6, 2.5, 5, 5.5) }, { deco: { frame: '#c8c8c8', frameWidth: 1 } });
    T(name, x + 61, y - 6.3, { size: 7.5, color: '#111' });
    T('PC2: 9% variance', x - 14.3, y + 60.4, { size: 6.5, rot: -90, color: '#222' });
    T('PC1: 13% variance', x + 60.7, y + 131.5, { size: 6.5, color: '#222' });
    T('gene', x + 128.4, y + 43.4, { size: 6.5, align: 'l', color: '#222' });
    box(x + 128.4, y + 48.7, 6.3, 33, 'linear-gradient(to bottom,#ff2000,#f0a898,#cdcdcd)');
    [['6', 54.4], ['4', 63.4], ['2', 72.4], ['0', 81]].forEach(p => T(p[0], x + 137.5, y + p[1], { size: 5.5, align: 'l', color: '#333' }));
}
genePlot('Hrk', exprHrk, 39.3, 662.3);
genePlot('Mir670hg', exprMir, 210, 662.3);
genePlot('Phactr3', exprPha, 39.3, 812.3);
genePlot('Pou2f2', exprPou, 210, 812.3);

// ---------- panel G ----------
plot({ x: 402.3, y: 672.3, w: 171.7, h: 147.7, l: 14, b: 9, t: 3, r: 4 }, 'scatter', [
    scat(gAF, 'rgba(248,118,109,.85)', 'circle', 0.95),
    scat(gAFX, 'rgba(124,174,0,.85)', 'circle', 0.95),
    scat(gFS1, 'rgba(0,191,196,.85)', 'circle', 0.95),
    scat(gFS2, 'rgba(199,124,255,.85)', 'circle', 0.95)
], { x: gg(-27.1, 39, 10, 20, 4.5), y: gg(-23, 27.9, 5, 10, 4.5) }, { deco: { frame: '#c4c4c4', frameWidth: 1 } });
T('PC2 (8.89% of variance)', 391.7, 746, { size: 4.8, rot: -90, color: '#222' });
T('PC1 (26.6% of variance)', 488, 828.3, { size: 4.8, color: '#222' });
T('cell_type', 580, 731.7, { size: 5.2, align: 'l', color: '#222' });
[['EpiSC_AF', '#f8766d', 739.3], ['EpiSC_AFX', '#7cae00', 746], ['FS1', '#00bfc4', 753], ['FS2', '#c77cff', 759.7]].forEach(p => {
    glyph('dot', p[1], 583.7, p[2], 2);
    T(p[0], 589.3, p[2], { size: 4.8, align: 'l', color: '#333' });
});

// ---------- panel H ----------
function violinSet(profile, cat) {
    const right = profile.map(p => ({ x: cat + p[1], y: p[0] }));
    const left = profile.slice().reverse().map(p => ({ x: cat - p[1], y: p[0] }));
    return { data: right.concat(left), showLine: true, tension: 0.35, pointRadius: 0, borderColor: '#7a7a7a', borderWidth: 1 };
}
const violins = [violinAF, violinAFX, violinFS1, violinFS2].map((v, i) => violinSet(v, i + 1));
const medians = violinMedian.map((m, i) => ({ data: [{ x: i + 1 - m[1], y: m[0] }, { x: i + 1 + m[1], y: m[0] }], showLine: true, pointRadius: 0, borderColor: '#7a7a7a', borderWidth: 1 }));
plot({ x: 632.3, y: 670.7, w: 154.4, h: 149.3, l: 10, b: 12, t: 3, r: 6 }, 'scatter', violins.concat(medians), {
    x: gg(0.41, 4.61, 1, 1, 5.5, v => violinNames[v - 1]),
    y: gg(0.181, 0.648, 0.05, 0.1, 3.8, v => v.toFixed(1))
}, { deco: { frame: '#c4c4c4', frameWidth: 1 } });
T('jaccard.similarity', 620.5, 740, { size: 4.8, rot: -90, color: '#222' });

// ---------- panels I, J ----------
function exprBars(b, labels, vals, errs, colors, min, max, step, barW, size) {
    plot(Object.assign({ l: 34, b: 2, t: 4, r: 2 }, b), 'bar', [
        { data: vals.map((v, i) => [v - errs[i], v + errs[i]]), backgroundColor: 'rgba(95,95,95,.75)', barThickness: 1, grouped: false, order: 0 },
        { data: vals, backgroundColor: colors, barThickness: barW, grouped: false, order: 1 }
    ], {
        x: hidden({ type: 'category' }),
        y: {
            type: 'linear', min, max,
            ticks: { stepSize: step, autoSkip: false, font: { size, weight: 'bold' }, color: '#666', padding: 5, callback: v => String(+v.toFixed(5)) },
            grid: { color: '#e6e6e6', drawTicks: false },
            border: { display: false }
        }
    }, { labels });
}
const blues = ['#4472c4', '#4472c4', '#4472c4', '#4472c4', '#00b0f0', '#00b0f0', '#00b0f0', '#00b0f0'];
const greens = ['#92d050', '#92d050', '#00b050', '#00b050'];
exprBars({ x: 68.3, y: 1002, w: 121.7, h: 77.3 }, iLabels, oct4Vals, oct4Errs, blues, -0.05, 0.2, 0.05, 8.3, 9.5);
exprBars({ x: 226.7, y: 1001.3, w: 124.3, h: 77.4 }, iLabels, pax6Vals, pax6Errs, blues, 0, 0.04, 0.01, 8.7, 9.5);
exprBars({ x: 431.7, y: 858, w: 71.3, h: 88 }, jLabels, nodalVals, nodalErrs, greens, 0, 0.06, 0.01, 12.3, 7.5);
exprBars({ x: 540.3, y: 858, w: 71.4, h: 88 }, jLabels, lefty1Vals, lefty1Errs, greens, 0, 0.25, 0.05, 12.3, 7.5);
exprBars({ x: 435.7, y: 1021.7, w: 63.7, h: 87.6 }, jLabels, foxa2Vals, foxa2Errs, greens, 0, 0.0035, 0.0005, 11, 7.5);
exprBars({ x: 542.7, y: 1021.3, w: 63.3, h: 88 }, jLabels, lefty2Vals, lefty2Errs, greens, 0, 0.002, 0.0005, 11, 7.5);

const labelFont = '"Open Sans"';
T('Oct4', 129, 987.7, { size: 12.5, bold: true, family: labelFont });
T('Pax6', 290, 977.7, { size: 12, bold: true, family: labelFont });
T('Nodal', 464, 851, { size: 10.5, bold: true, family: labelFont });
T('Lefty1', 579.3, 852, { size: 10.5, bold: true, family: labelFont });
T('Foxa2', 465.7, 1015, { size: 10.5, bold: true, family: labelFont });
T('Lefty2', 575, 1015, { size: 10.5, bold: true, family: labelFont });
T('Relative expression to beta-Actin', 25.3, 1057.3, { size: 9.9, bold: true, rot: -90 });
T('Relative expression to beta-Actin', 393.3, 991.7, { size: 9.9, bold: true, rot: -90 });
[219, 263, 311, 360, 407, 455, 503, 551].forEach((z, i) => T(iLabels[i], z / 3, 1103, { size: 7.5, bold: true, rot: -90, color: '#333' }));
[693, 738, 787, 835, 882, 930, 980, 1027].forEach((z, i) => T(iLabels[i], z / 3, 1103, { size: 7.5, bold: true, rot: -90, color: '#333' }));
[[172, 226, 289, 337], [505, 558, 622, 669]].forEach(r => r.forEach((z, i) => T(jLabels[i], 380 + z / 3, 968.7, { size: 7, bold: true, rot: -90, color: '#333' })));
[[176, 230, 292, 340], [507, 546, 605, 655]].forEach(r => r.forEach((z, i) => T(jLabels[i], 380 + z / 3, 1130.7, { size: 7, bold: true, rot: -90, color: '#333' })));
[['FS1', 93.7, 1130], ['FS2', 167, 1130], ['FS1', 252.5, 1130], ['FS2', 326, 1130], ['FS1', 446, 993.3], ['FS2', 482, 993.3], ['FS1', 556.7, 993.3], ['FS2', 592.7, 993.3]]
    .forEach(p => T(p[0], p[1], p[2], { size: 6.5, bold: true, color: '#222' }));

// ---------- panel K ----------
const blotRows = [
    { name: 'pSmad2', y: 913, h: 17.7, bg: '#d9d9d9', bands: [0.55, 0.95, 0.3, 0.85], bh: 6, ty: 921.7 },
    { name: 'Smad2', y: 934, h: 13.3, bg: '#bdbdbd', bands: [0.8, 0.7, 0.7, 0.5], bh: 6, ty: 940.7 },
    { name: 'Gapdh', y: 950.7, h: 16, bg: '#a6a6a6', bands: [1, 1, 1, 1], bh: 9, ty: 959.3 }
];
const blotX = [712.7, 732.3, 751.7, 771.7];
blotRows.forEach(r => {
    const bg = box(701.7, r.y, 79.3, r.h, r.bg);
    bg.style.overflow = 'hidden';
    r.bands.forEach((v, i) => {
        const d = document.createElement('div');
        d.style.cssText = `position:absolute;left:${blotX[i] - 701.7 - 9}px;top:${r.h / 2 - r.bh / 2}px;width:18px;height:${r.bh}px;border-radius:50%;background:#000;opacity:${v};filter:blur(1.2px);`;
        bg.appendChild(d);
    });
    T(r.name, 672.7, r.ty, { size: 12.5, bold: true });
});
T('FS1', 724, 866.7, { size: 11.5, bold: true });
T('FS2', 762.7, 866.7, { size: 11.5, bold: true });
['A 3ng', 'A 20ng', 'A 3ng', 'A 20ng'].forEach((s, i) => T(s, blotX[i], 895, { size: 9.5, rot: -90, color: '#111' }));

// ---------- leader lines and separators ----------
let svg = '<svg width="800" height="1157">';
bGenes.forEach(g => {
    svg += `<polyline points="456,${g[2]} 462,${g[2]} 468.5,${g[1]}" fill="none" stroke="#b5bde6" stroke-width="0.6"/>`;
});
[[130, 1093, 1127], [288, 1093, 1128], [465.7, 946, 982], [576.7, 946, 982], [466.7, 1109, 1144], [572.3, 1110, 1147]].forEach(s => {
    svg += `<line x1="${s[0]}" y1="${s[1]}" x2="${s[0]}" y2="${s[2]}" stroke="#888" stroke-width="0.8"/>`;
});
svg += '<line x1="701.7" y1="875" x2="780" y2="875" stroke="#555" stroke-width="1"/></svg>';
page.insertAdjacentHTML('beforeend', svg);

letters();
</script>
</body>
</html>
